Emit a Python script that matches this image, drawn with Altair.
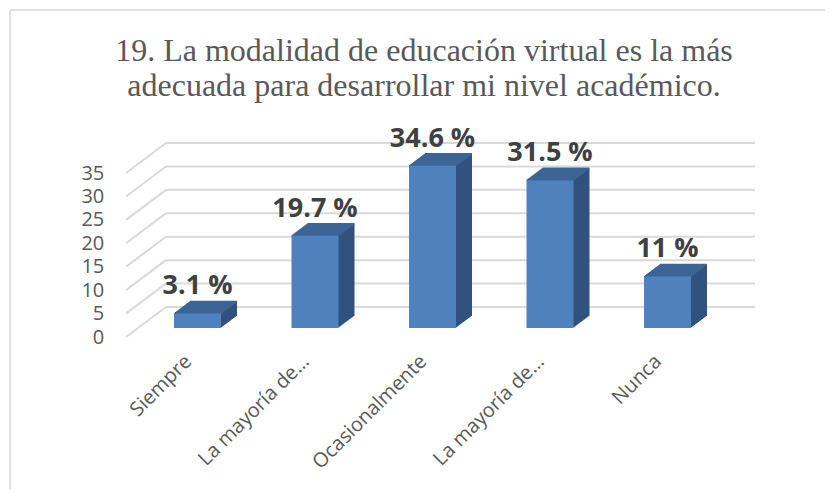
import altair as alt
import pandas as pd

# ---------------- data ----------------
categories = ["Siempre", "La mayoría de las veces sí", "Ocasionalmente",
              "La mayoría de las veces no", "Nunca"]
values = [3.1, 19.7, 34.6, 31.5, 11]
y_ticks = [0, 5, 10, 15, 20, 25, 30, 35]
title_lines = ["19. La modalidad de educación virtual es la más",
               "adecuada para desarrollar mi nivel académico."]

df = pd.DataFrame({"cat": categories, "v": values})
df["label"] = [f"{v:g} %" for v in values]
grid_df = pd.DataFrame({"tick": y_ticks})
one_df = pd.DataFrame({"k": [0]})

# ---------------- style ----------------
PL, PT = 130.75, 165          # padding -> view origin
W, H = 587.5, 164             # plot area
PR = 817 - PL - W
PB = 481 - PT - H
FRONT = "#4F81BD"
SIDE = "#31527E"
TOP = "#3D6594"
GRID = "#D9D9D9"
TXT = "#595959"
DEPTH_X, DEPTH_Y, STEPS = 16, 12, 16
BASE_LIFT = 9                  # bar base above the front floor edge
WALL_X, WALL_Y = 40, 30        # back wall displacement
FRONT_X = -12.75               # front end of the floor diagonals (relative to view)
WALL_RIGHT = 616.25

label_expr = "length(datum.label) > 14 ? substring(datum.label, 0, 13) + '…' : datum.label"

x_enc = alt.X("cat:N", sort=categories,
              scale=alt.Scale(domain=categories, paddingInner=0.6, paddingOuter=0.3),
              axis=alt.Axis(title=None, labelAngle=-45, labelAlign="right",
                            labelBaseline="middle", labelPadding=21, labelOffset=-9,
                            ticks=False, domain=False, grid=False,
                            labelFont="Open Sans", labelFontSize=20, labelColor=TXT,
                            labelExpr=label_expr, labelOverlap=False, labelLimit=0))
y_scale = alt.Scale(domain=[0, 35], nice=False, zero=True)
y_axis = alt.Axis(title=None, values=y_ticks, labelPadding=35, ticks=False,
                  domain=False, grid=False, labelFont="Open Sans",
                  labelFontSize=20, labelColor=TXT)

layers = []

# chart frame (top and left edges)
layers.append(alt.Chart(one_df).mark_rule(color=GRID, strokeWidth=1.5).encode(
    x=alt.value(10 - 8 - PL), x2=alt.value(900), y=alt.value(10 - 8 - PT)))
layers.append(alt.Chart(one_df).mark_rule(color=GRID, strokeWidth=1.5).encode(
    x=alt.value(10 - 8 - PL), y=alt.value(10 - 8 - PT), y2=alt.value(600)))

# back-wall gridlines
layers.append(alt.Chart(grid_df).mark_rule(color=GRID, strokeWidth=2,
                                           yOffset=-WALL_Y, y2Offset=-WALL_Y).encode(
    y=alt.Y("tick:Q", scale=y_scale, axis=y_axis), y2="tick:Q",
    x=alt.value(FRONT_X + WALL_X), x2=alt.value(WALL_RIGHT)))
# floor-side diagonals
layers.append(alt.Chart(grid_df).mark_rule(color=GRID, strokeWidth=2,
                                           y2Offset=-WALL_Y).encode(
    y=alt.Y("tick:Q", scale=y_scale, axis=y_axis), y2="tick:Q",
    x=alt.value(FRONT_X), x2=alt.value(FRONT_X + WALL_X)))

# 3D extrusion (side)
for k in range(1, STEPS + 1):
    dx = DEPTH_X * k / STEPS
    dy = DEPTH_Y * k / STEPS
    layers.append(alt.Chart(df).mark_bar(color=SIDE, xOffset=dx, x2Offset=dx,
                                         yOffset=-BASE_LIFT - dy,
                                         y2Offset=-BASE_LIFT - dy).encode(
        x=x_enc, y=alt.Y("v:Q", scale=y_scale, axis=y_axis), y2=alt.datum(0)))
# 3D top face
for k in range(0, STEPS + 1):
    dx = DEPTH_X * k / STEPS
    dy = DEPTH_Y * k / STEPS
    layers.append(alt.Chart(df).mark_tick(color=TOP, size=47, thickness=1.6,
                                          orient="horizontal", opacity=1,
                                          xOffset=dx, yOffset=-BASE_LIFT - dy).encode(
        x=x_enc, y=alt.Y("v:Q", scale=y_scale, axis=y_axis)))
# front face
layers.append(alt.Chart(df).mark_bar(color=FRONT, yOffset=-BASE_LIFT,
                                     y2Offset=-BASE_LIFT).encode(
    x=x_enc, y=alt.Y("v:Q", scale=y_scale, axis=y_axis), y2=alt.datum(0)))
# data labels
layers.append(alt.Chart(df).mark_text(font="Open Sans", fontWeight="bold", fontSize=27,
                                      color="#404040", baseline="alphabetic",
                                      dy=-(BASE_LIFT + 19)).encode(
    x=x_enc, y=alt.Y("v:Q", scale=y_scale, axis=y_axis), text="label:N"))

chart = alt.layer(*layers).properties(
    width=W, height=H,
    background="white",
    title=alt.TitleParams(text=title_lines, font="Liberation Serif", fontSize=32,
                          fontWeight="normal", color=TXT, lineHeight=35,
                          anchor="middle", frame="group", baseline="bottom",
                          dx=-8.5, offset=-126),
    autosize=alt.AutoSizeParams(type="none"),
    padding={"left": PL, "top": PT, "right": PR, "bottom": PB},
).configure_view(stroke=None)

chart.save("out.html", embed_options={"renderer": "svg", "actions": False})
